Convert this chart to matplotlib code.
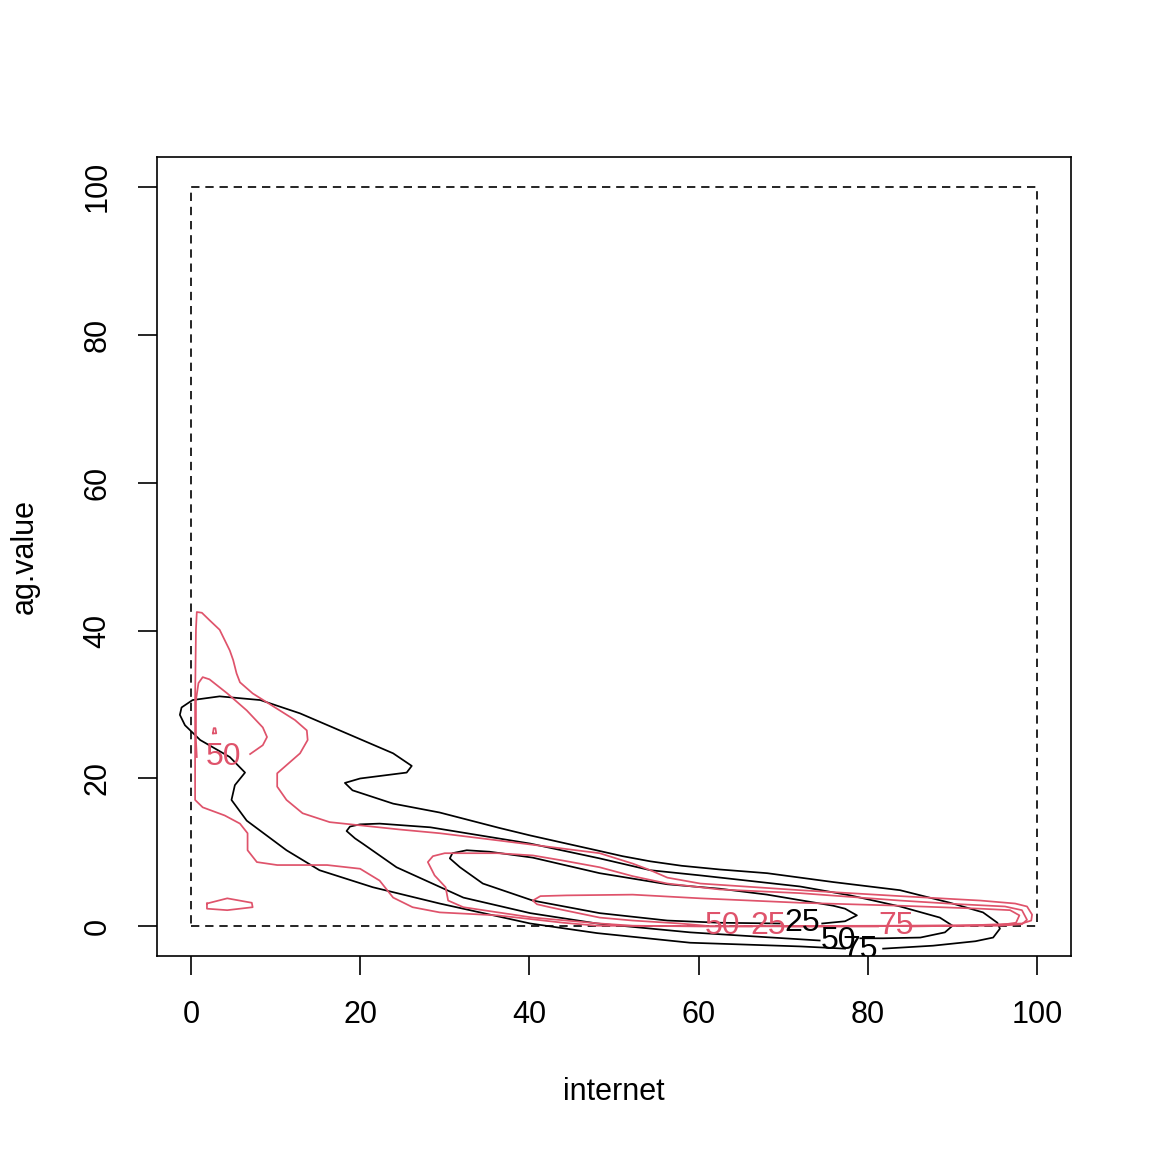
import matplotlib
matplotlib.use("Agg")
import matplotlib.pyplot as plt

plt.rcParams['font.family'] = ['Liberation Sans', 'DejaVu Sans']

RED = "#DF536B"

# black contours (internet, ag.value)
blk75_x = [81.8, 87.7, 92.7, 94.8, 95.6, 95.3, 93.6, 89.7, 83.8, 75.9, 68.1, 62.5, 58.0, 54.3,
           51.0, 48.3, 44.0, 40.1, 36.5, 29.4, 23.9, 19.1, 18.2, 20.0, 25.5, 26.1, 23.9, 18.4,
           12.9, 8.2, 3.4, 0.2, -1.1, -1.3, -0.7, 1.1, 4.6, 6.4, 5.2, 4.8, 6.6, 11.3, 15.2,
           21.5, 29.4, 40.1, 48.0, 59.0, 72.0, 77.3]
blk75_y = [-3.0, -2.6, -2.0, -1.5, -0.3, 0.5, 1.9, 3.2, 4.9, 6.0, 7.2, 7.7, 8.2, 8.8,
           9.5, 10.2, 11.3, 12.3, 13.3, 15.4, 16.6, 18.4, 19.4, 20.0, 20.8, 21.7, 23.4, 26.1,
           28.8, 30.6, 31.1, 30.6, 29.6, 28.6, 27.2, 25.2, 22.9, 20.8, 19.1, 17.1, 14.3, 10.3,
           7.6, 5.3, 3.1, 0.4, -0.9, -2.2, -2.7, -3.0]

blk50_x = [79.1, 81.8, 86.2, 89.1, 90.0, 88.5, 83.8, 77.9, 72.0, 60.2, 54.3, 48.3, 40.1, 28.3,
           22.3, 20.0, 18.8, 18.4, 19.4, 20.3, 24.3, 32.2, 40.1, 48.0, 59.0, 67.3, 74.3]
blk50_y = [-1.6, -1.6, -1.5, -0.8, 0.1, 1.2, 2.7, 4.2, 5.4, 6.9, 7.6, 9.2, 11.2, 13.4,
           13.9, 13.8, 13.5, 12.9, 11.9, 11.2, 8.0, 3.9, 1.8, 0.4, -0.8, -1.4, -1.9]

blk25_x = [74.6, 77.3, 78.7, 77.3, 75.9, 68.1, 62.5, 56.3, 48.3, 40.4, 35.3, 32.6, 30.9, 30.6,
           31.8, 34.5, 40.4, 48.3, 56.3, 62.5, 69.6]
blk25_y = [0.4, 0.7, 1.5, 2.4, 2.8, 4.3, 5.1, 5.7, 7.2, 9.3, 10.1, 10.3, 9.9, 9.2,
           8.0, 5.8, 3.5, 1.8, 0.8, 0.5, 0.4]

# red contours
red75_x = [85.2, 90.9, 95.6, 98.2, 99.3, 99.4, 98.8, 97.4, 93.3, 83.8, 72.0, 60.2, 56.3, 54.3,
           52.2, 48.3, 36.5, 29.4, 24.7, 16.4, 13.2, 11.3, 10.2, 10.2, 11.7, 12.9, 13.8, 13.7,
           12.3, 10.5, 7.3, 5.8, 5.4, 5.0, 4.6, 3.4, 2.2, 1.3, 0.7, 0.6, 0.5, 0.5, 1.4, 4.0,
           5.8, 6.7, 6.7, 7.8, 10.2, 16.1, 20.0, 22.3, 23.9, 26.2, 29.4, 36.2, 44.0, 48.0,
           60.2, 72.0, 81.2]
red75_y = [0.0, 0.1, 0.3, 0.4, 0.8, 1.6, 2.7, 3.1, 3.5, 4.1, 4.9, 5.8, 6.6, 7.6,
           8.5, 9.9, 11.6, 12.6, 13.1, 14.1, 15.3, 17.1, 18.9, 20.7, 22.2, 23.4, 25.2, 26.5,
           27.9, 29.2, 31.5, 33.0, 34.2, 36.0, 37.3, 40.1, 41.4, 42.4, 42.5, 40.1, 30.6, 17.1,
           16.1, 15.0, 13.9, 12.6, 10.3, 8.7, 8.3, 8.3, 7.8, 6.2, 3.9, 2.6, 1.9, 1.5, 0.5, 0.1,
           0.05, 0.0, 0.0]
red75b_x = [1.9, 4.3, 7.2, 7.3, 4.3, 1.9, 1.9]
red75b_y = [3.1, 3.8, 3.2, 2.6, 2.2, 2.4, 3.1]

red25_x = [70.2, 83.8, 95.6, 98.2, 98.8, 98.2, 96.2, 90.9, 83.8, 72.0, 62.5, 56.3, 52.2, 48.3,
           44.0, 40.4, 36.2, 30.0, 28.6, 28.0, 28.8, 30.1, 30.4, 32.2, 40.4, 48.3, 52.2, 60.2,
           66.3]
red25_y = [0.0, 0.05, 0.1, 0.3, 0.9, 2.2, 2.7, 3.0, 3.5, 4.5, 5.0, 5.8, 6.8, 8.0,
           8.9, 9.6, 9.9, 9.9, 9.5, 8.7, 6.9, 5.3, 3.5, 2.6, 1.2, 0.4, 0.1, 0.0,
           0.0]

red50_x = [64.9, 83.8, 95.6, 97.5, 97.9, 96.8, 93.3, 83.8, 72.0, 60.2, 52.2, 44.4, 41.3, 40.4,
           40.9, 42.4, 48.3, 52.2, 57.8, 60.8]
red50_y = [0.05, 0.1, 0.2, 0.5, 1.5, 2.2, 2.4, 2.8, 3.2, 3.8, 4.3, 4.2, 4.1, 3.5,
           3.0, 2.6, 1.2, 0.8, 0.4, 0.1]
red50b_x = [7.0, 8.5, 9.0, 8.5, 6.6, 4.3, 2.2, 1.4, 0.9, 0.6, 0.6, 0.7]
red50b_y = [23.3, 24.5, 25.6, 26.9, 29.2, 31.5, 33.4, 33.7, 32.9, 30.6, 25.2, 22.9]
red50c_x = [2.6, 2.7, 2.9, 3.0, 2.6]
red50c_y = [26.1, 26.8, 26.8, 26.1, 26.1]

# contour labels
blk_lab = ["25", "50", "75"]
blk_lab_x = [72.2, 76.5, 79.1]
blk_lab_y = [0.4, -1.9, -3.2]
red_lab = ["50", "50", "25", "75"]
red_lab_x = [3.9, 62.8, 68.2, 83.3]
red_lab_y = [22.9, 0.0, 0.0, 0.0]

ticks = [0, 20, 40, 60, 80, 100]

fig = plt.figure(figsize=(11.52, 11.52), dpi=100)
ax = fig.add_axes([0.1363, 0.1701, 0.7934, 0.6936])

ax.plot([0, 100, 100, 0, 0], [0, 0, 100, 100, 0], color='black', lw=1.2,
        dashes=(5, 3.5))

lw = 1.25
for xs, ys in [(blk75_x, blk75_y), (blk50_x, blk50_y), (blk25_x, blk25_y)]:
    ax.plot(xs, ys, color='black', lw=lw)
for xs, ys in [(red75_x, red75_y), (red75b_x, red75b_y), (red25_x, red25_y),
               (red50_x, red50_y), (red50b_x, red50b_y), (red50c_x, red50c_y)]:
    ax.plot(xs, ys, color=RED, lw=lw)

for t, x, y in zip(red_lab, red_lab_x, red_lab_y):
    ax.text(x, y, t, color=RED, fontsize=23, ha='center', va='center', clip_on=True)
for t, x, y in zip(blk_lab, blk_lab_x, blk_lab_y):
    ax.text(x, y, t, color='black', fontsize=23, ha='center', va='center', clip_on=True)

ax.set_xlim(-4, 104)
ax.set_ylim(-4, 104)
ax.set_xticks(ticks)
ax.set_yticks(ticks)
ax.set_yticklabels([str(t) for t in ticks], rotation=90, va='center')
ax.tick_params(length=14, width=1.2, labelsize=22, pad=18)
for s in ax.spines.values():
    s.set_linewidth(1.2)

fig.text(0.533, 1 - 1092 / 1152, "internet", fontsize=22, ha='center', va='center')
fig.text(25 / 1152, 0.5165, "ag.value", fontsize=22, ha='center', va='center', rotation=90)

fig.savefig("out.png", dpi=100)
